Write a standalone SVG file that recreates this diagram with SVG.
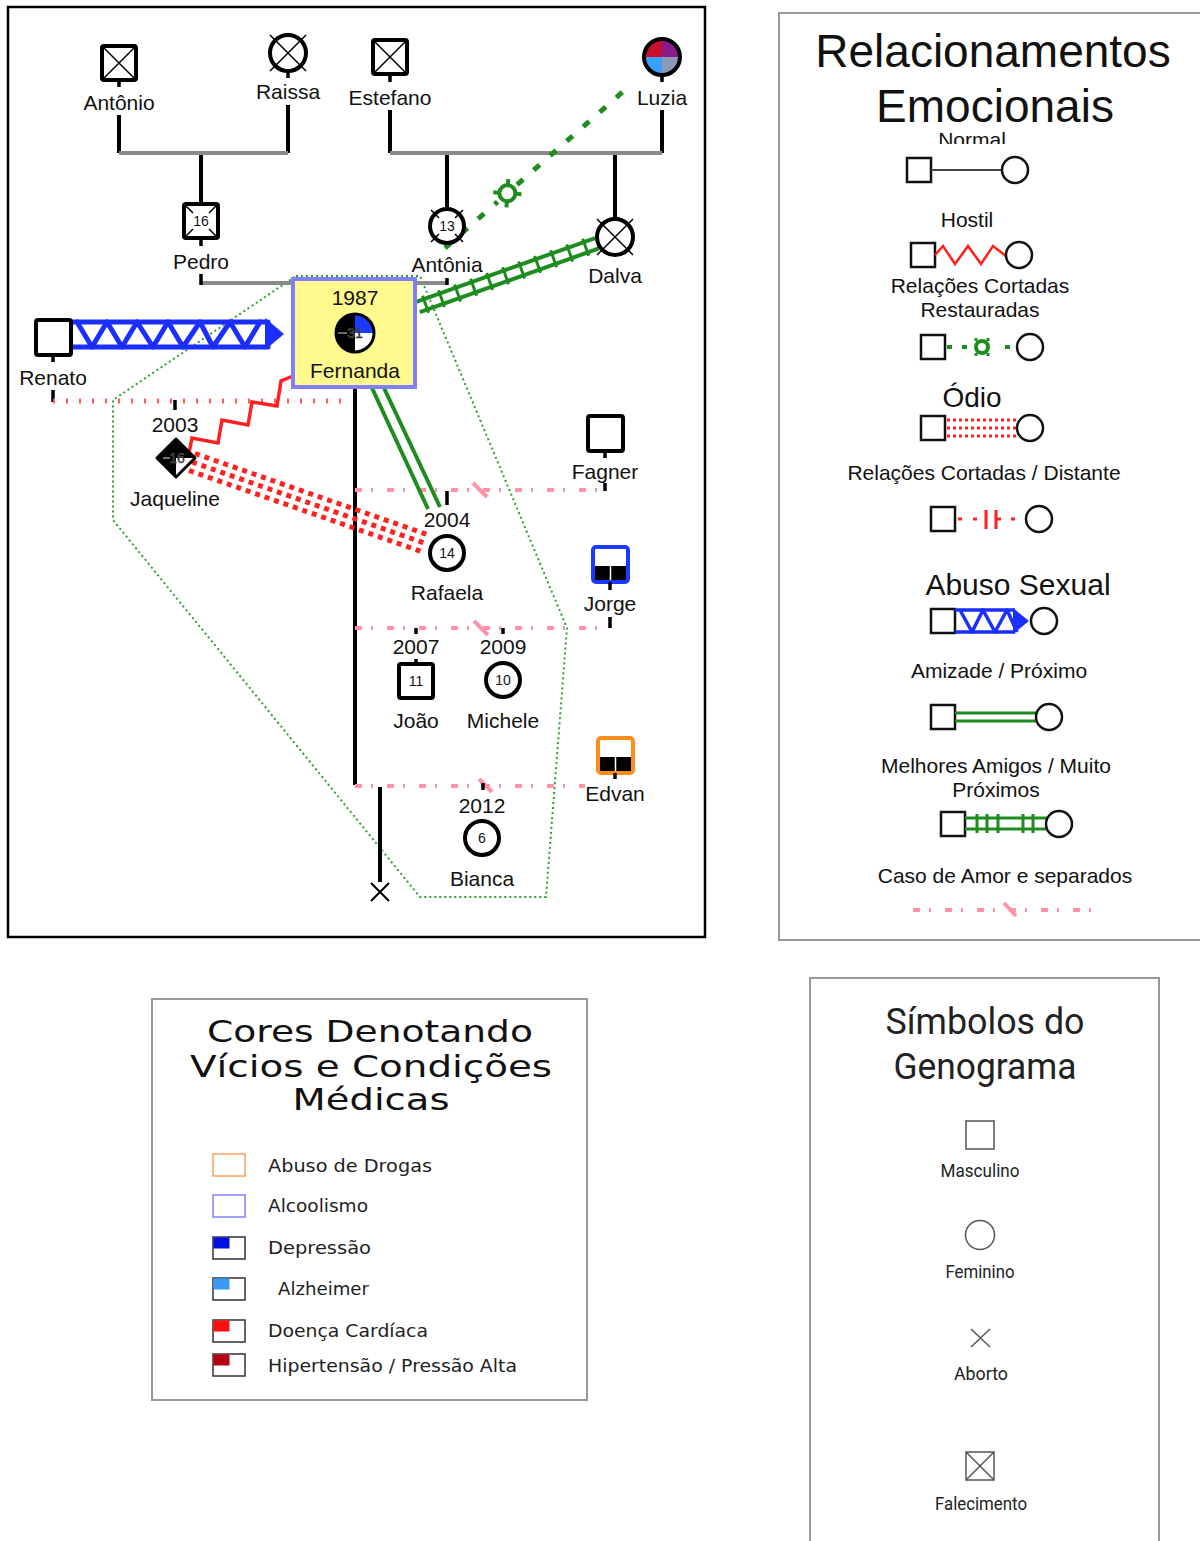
<svg xmlns="http://www.w3.org/2000/svg" width="1200" height="1541" viewBox="0 0 1200 1541">
<style>
text{font-family:"Liberation Sans",Arial,sans-serif;fill:#111}
.l{font-size:21px;text-anchor:middle}
.n{font-size:14px;text-anchor:middle}
.sym{fill:#fff;stroke:#000;stroke-width:4}
.thin{stroke:#000;stroke-width:1.5;fill:none}
.blk{stroke:#000;stroke-width:4;fill:none}
.gray{stroke:#8a8a8a;stroke-width:4;fill:none}
.stub{stroke:#000;stroke-width:3.5}
.pink{stroke:#ff94a8;stroke-width:4;stroke-dasharray:7 9 2 14;fill:none}
.slash{stroke:#ff94a8;stroke-width:4}
.grn{stroke:#1e8c1e;fill:none}
.red{stroke:#ff2020;fill:none}
.blue{stroke:#1a2eff;fill:none}
.frame{fill:none;stroke:#999;stroke-width:2}
.lg{font-size:21px;text-anchor:middle}
.ls{fill:#fff;stroke:#111;stroke-width:2.5}
.c2{font-family:"DejaVu Sans",sans-serif;font-size:18px;fill:#222}
.ct{font-family:"DejaVu Sans",sans-serif;font-size:30px;text-anchor:middle;fill:#111}
.c3{font-family:Roboto,sans-serif;text-anchor:middle;fill:#222}
.s3{fill:none;stroke:#555;stroke-width:1.5}
.box{fill:#fff;stroke:#333;stroke-width:1.5}
</style>
<defs>
<clipPath id="clipN"><rect x="900" y="126" width="150" height="18"/></clipPath>
</defs>
<rect width="1200" height="1541" fill="#fff"/>

<!-- main frame -->
<rect x="8" y="7" width="697" height="930" fill="none" stroke="#000" stroke-width="2.5"/>

<g id="connectors">
  <!-- household dotted -->
  <polygon points="296,276 420,276 567,628 546,897 420,897 113,520 113,400" fill="none" stroke="#2e9e2e" stroke-width="2" stroke-dasharray="2 3"/>
  <!-- Antônio + Raissa -->
  <path class="blk" d="M119,115 V153 M288,105 V153 M201,153 V204"/>
  <path class="gray" d="M119,153 H288"/>
  <!-- Estefano + Luzia -->
  <path class="blk" d="M390,110 V153 M662,110 V153 M447,153 V209 M615,153 V219"/>
  <path class="gray" d="M390,153 H662"/>
  <!-- Pedro + Antônia -->
  <path class="gray" d="M201,283 H447"/>
  <path class="stub" d="M201,274 V285 M447,278 V285"/>
  <!-- Fernanda children line -->
  <path class="blk" d="M355,387 V785"/>
  <!-- Renato - Fernanda distant -->
  <path class="stub" d="M53,390 V402 M175,400 V410"/>
  <path d="M53,401 H350" stroke="#ff5c5c" stroke-width="5" stroke-dasharray="2 11" fill="none"/>
  <!-- pink love lines -->
  <path class="pink" d="M355,490 H600 M355,628 H610 M355,786 H585"/>
  <path class="slash" d="M473,483 L487,497 M474,621 L488,635 M479,779 L492,792"/>
  <path class="stub" d="M605,483 V491 M447,491 V505 M610,617 V628 M416,628 V634 M503,628 V634 M483,783 V790 M416,659 V664"/>
  <!-- abortion -->
  <path class="blk" d="M380,787 V882"/>
  <!-- abuse Renato -> Fernanda -->
  <g class="blue" stroke-width="5" stroke-linecap="round" stroke-linejoin="round">
    <path d="M72,322 H268 M72,347 H268"/>
    <path d="M77,322 L92,347 L107,322 L122,347 L137,322 L153,347 L168,322 L183,347 L200,322 L213,347 L230,322 L245,347 L260,322"/>
  </g>
  <polygon points="265,318 284,334 265,350" fill="#1a2eff"/>
  <!-- hostile Jaqueline - Fernanda -->
  <path class="red" stroke-width="3.5" d="M189,453 L192,438 L218,443 L222,420 L248,425 L252,402 L277,406 L281,381 L293,376"/>
  <!-- hate Jaqueline - Rafaela -->
  <g transform="translate(192,462) rotate(19.23)" class="red" stroke-width="5" stroke-dasharray="5 5">
    <path d="M0,-9 H245 M0,0 H245 M0,9 H245"/>
  </g>
  <!-- friendship Fernanda - Rafaela -->
  <path class="grn" stroke-width="4" d="M372,388 L428,509 M384,388 L440,507"/>
  <!-- best friends Fernanda - Dalva -->
  <g transform="translate(418,307) rotate(-19.6)" class="grn">
    <path stroke-width="4" d="M0,-5.5 H190 M0,5.5 H190"/>
    <path stroke-width="3" d="M8,-9 V9 M25,-9 V9 M42,-9 V9 M59,-9 V9 M76,-9 V9 M93,-9 V9 M110,-9 V9 M127,-9 V9 M144,-9 V9 M161,-9 V9 M178,-9 V9"/>
  </g>
  <!-- cut-off restored Antônia - Luzia -->
  <g transform="translate(445,248) rotate(-41.3)" class="grn">
    <path stroke-width="5" stroke-dasharray="8 14" d="M0,0 H70 M96,0 H250"/>
    <circle cx="83" cy="0" r="8" stroke-width="4"/>
    <path stroke-width="4" d="M77,-6 L73,-10 M89,-6 L93,-10 M77,6 L73,10 M89,6 L93,10"/>
  </g>
</g>

<g id="antonio">
  <rect class="sym" x="102" y="46" width="34" height="34" rx="2"/>
  <path class="thin" d="M104,48 L134,78 M134,48 L104,78"/>
  <path class="stub" d="M119,80 V87"/>
  <text class="l" x="119" y="110">Antônio</text>
</g>
<g id="raissa">
  <circle class="sym" cx="288" cy="53" r="18"/>
  <path class="thin" stroke-width="2" d="M270,35 L306,71 M306,35 L270,71"/>
  <path class="stub" d="M288,71 V78"/>
  <text class="l" x="288" y="99">Raissa</text>
</g>
<g id="estefano">
  <rect class="sym" x="373" y="40" width="34" height="34" rx="2"/>
  <path class="thin" d="M375,42 L405,72 M405,42 L375,72"/>
  <path class="stub" d="M390,74 V82"/>
  <text class="l" x="390" y="105">Estefano</text>
</g>
<g id="luzia">
  <path d="M662,57 L644,57 A18,18 0 0 1 662,39 Z" fill="#c8102e"/>
  <path d="M662,57 L662,39 A18,18 0 0 1 680,57 Z" fill="#8b1a8b"/>
  <path d="M662,57 L680,57 A18,18 0 0 1 662,75 Z" fill="#8a9ab8"/>
  <path d="M662,57 L662,75 A18,18 0 0 1 644,57 Z" fill="#3aa0ff"/>
  <circle cx="662" cy="57" r="18" fill="none" stroke="#000" stroke-width="4"/>
  <path class="stub" d="M662,75 V82"/>
  <text class="l" x="662" y="105">Luzia</text>
</g>
<g id="pedro">
  <rect class="sym" x="184" y="204" width="34" height="34" rx="2"/>
  <path class="thin" d="M186,206 L193,213 M216,206 L209,213 M186,236 L193,229 M216,236 L209,229"/>
  <text class="n" x="201" y="226">16</text>
  <path class="stub" d="M201,238 V246"/>
  <text class="l" x="201" y="269">Pedro</text>
</g>
<g id="antonia">
  <circle class="sym" cx="447" cy="226" r="17"/>
  <path class="thin" stroke-width="2" d="M439,218 L431,210 M455,218 L463,210 M439,234 L431,242 M455,234 L463,242"/>
  <text class="n" x="447" y="231">13</text>
  <text class="l" x="447" y="272">Antônia</text>
</g>
<g id="dalva">
  <circle class="sym" cx="615" cy="237" r="18"/>
  <path class="thin" stroke-width="2" d="M597,219 L633,255 M633,219 L597,255"/>
  <text class="l" x="615" y="283">Dalva</text>
</g>
<g id="fernanda">
  <rect x="293" y="279" width="122" height="108" fill="#fff98e" stroke="#8080ff" stroke-width="4"/>
  <text class="l" x="355" y="305">1987</text>
  <circle cx="355" cy="333" r="19" fill="#000"/>
  <path d="M355,333 L355,314 A19,19 0 0 1 374,333 Z" fill="#1a3aff"/>
  <path d="M355,333 L374,333 A19,19 0 0 1 355,352 Z" fill="#fff"/>
  <circle cx="355" cy="333" r="19" fill="none" stroke="#000" stroke-width="3"/>
  <path d="M338,333 H347" stroke="#888" stroke-width="1.5"/>
  <text class="n" x="355" y="338" fill="#ddd" stroke="#555" stroke-width="0.6">31</text>
  <text class="l" x="355" y="378">Fernanda</text>
</g>
<g id="renato">
  <rect class="sym" x="36" y="320" width="35" height="35" rx="2"/>
  <path class="stub" d="M53,355 V362"/>
  <text class="l" x="53" y="385">Renato</text>
</g>
<g id="jaqueline">
  <text class="l" x="175" y="432">2003</text>
  <polygon points="176,439 195,458 176,477 157,458" fill="#000" stroke="#000" stroke-width="3" stroke-linejoin="round"/>
  <polygon points="176,458 193,458 176,475" fill="#fff"/>
  <path d="M163,458 H170" stroke="#999" stroke-width="1.5"/>
  <text class="n" x="177" y="463" fill="#ccc" stroke="#666" stroke-width="0.5">16</text>
  <text class="l" x="175" y="506">Jaqueline</text>
</g>
<g id="fagner">
  <rect class="sym" x="588" y="416" width="35" height="35" rx="2"/>
  <path class="stub" d="M605,451 V458"/>
  <text class="l" x="605" y="479">Fagner</text>
</g>
<g id="rafaela">
  <text class="l" x="447" y="527">2004</text>
  <circle class="sym" cx="447" cy="553" r="17"/>
  <text class="n" x="447" y="558">14</text>
  <text class="l" x="447" y="600">Rafaela</text>
</g>
<g id="jorge">
  <rect class="sym" x="593" y="547" width="35" height="35" rx="3" style="stroke:#1a3aff"/>
  <rect x="595" y="566" width="31" height="14" fill="#000"/>
  <path d="M610.5,566 V580" stroke="#fff" stroke-width="1.5"/>
  <path class="stub" d="M610,582 V590"/>
  <text class="l" x="610" y="611">Jorge</text>
</g>
<g id="joao">
  <text class="l" x="416" y="654">2007</text>
  <rect class="sym" x="399" y="664" width="34" height="34" rx="2"/>
  <text class="n" x="416" y="686">11</text>
  <text class="l" x="416" y="728">João</text>
</g>
<g id="michele">
  <text class="l" x="503" y="654">2009</text>
  <circle class="sym" cx="503" cy="680" r="17"/>
  <text class="n" x="503" y="685">10</text>
  <text class="l" x="503" y="728">Michele</text>
</g>
<g id="edvan">
  <rect class="sym" x="598" y="738" width="35" height="35" rx="3" style="stroke:#ff8c1a"/>
  <rect x="600" y="757" width="31" height="14" fill="#000"/>
  <path d="M615.5,757 V771" stroke="#fff" stroke-width="1.5"/>
  <path class="stub" d="M615,773 V779"/>
  <text class="l" x="615" y="801">Edvan</text>
</g>
<g id="bianca">
  <text class="l" x="482" y="813">2012</text>
  <circle class="sym" cx="482" cy="838" r="17"/>
  <text class="n" x="482" y="843">6</text>
  <text class="l" x="482" y="886">Bianca</text>
</g>
<g id="aborto">
  <path d="M371,883 L389,901 M389,883 L371,901" stroke="#000" stroke-width="2"/>
</g>

<!-- Legend: Relacionamentos Emocionais -->
<g id="legend-relacionamentos">
  <rect class="frame" x="779" y="13" width="430" height="927"/>
  <text x="993" y="67" font-size="46" text-anchor="middle">Relacionamentos</text>
  <text x="995" y="122" font-size="46" text-anchor="middle">Emocionais</text>
  <text class="lg" x="972" y="147" font-size="20" clip-path="url(#clipN)">Normal</text>
  <rect class="ls" x="907" y="158" width="24" height="24"/>
  <path d="M931,170 H1002" stroke="#444" stroke-width="2"/>
  <circle class="ls" cx="1015" cy="170" r="13"/>

  <text class="lg" x="967" y="227">Hostil</text>
  <rect class="ls" x="911" y="243" width="24" height="24"/>
  <path class="red" stroke-width="2.5" d="M935,255 L943,246 L955,264 L968,246 L981,264 L993,246 L1006,256"/>
  <circle class="ls" cx="1019" cy="255" r="13"/>

  <text class="lg" x="980" y="293">Relações Cortadas</text>
  <text class="lg" x="980" y="317">Restauradas</text>
  <rect class="ls" x="921" y="335" width="24" height="24"/>
  <path class="grn" stroke-width="4" d="M947,347 H952 M962,347 H967 M1005,347 H1010"/>
  <circle class="grn" cx="982" cy="347" r="6" stroke-width="4"/>
  <path class="grn" stroke-width="3" d="M976,341 V338 M988,341 V338 M976,353 V356 M988,353 V356"/>
  <circle class="ls" cx="1030" cy="347" r="13"/>

  <text x="972" y="407" font-size="28" text-anchor="middle">Ódio</text>
  <rect class="ls" x="921" y="416" width="24" height="24"/>
  <path class="red" stroke-width="3" stroke-dasharray="3 3" d="M947,420 H1016 M947,428 H1016 M947,436 H1016"/>
  <circle class="ls" cx="1030" cy="428" r="13"/>

  <text class="lg" x="984" y="480">Relações Cortadas / Distante</text>
  <rect class="ls" x="931" y="507" width="24" height="24"/>
  <path class="red" stroke-width="3" d="M958,519 H962 M973,519 H977 M996,519 H1001 M1011,519 H1015 M986,510 V529 M996,510 V529"/>
  <circle class="ls" cx="1039" cy="519" r="13"/>

  <text x="1018" y="595" font-size="30" text-anchor="middle">Abuso Sexual</text>
  <rect class="ls" x="931" y="609" width="24" height="24"/>
  <g class="blue" stroke-width="3.5" stroke-linejoin="round">
    <path d="M955,610 H1015 M955,632 H1015"/>
    <path d="M960,610 L972,632 L983,610 L995,632 L1007,610 L1017,632"/>
  </g>
  <polygon points="1013,608 1029,621 1013,634" fill="#1a2eff"/>
  <circle class="ls" cx="1044" cy="621" r="13"/>

  <text class="lg" x="999" y="678">Amizade / Próximo</text>
  <rect class="ls" x="931" y="705" width="24" height="24"/>
  <path class="grn" stroke-width="3" d="M955,713 H1037 M955,721 H1037"/>
  <circle class="ls" cx="1049" cy="717" r="13"/>

  <text class="lg" x="996" y="773">Melhores Amigos / Muito</text>
  <text class="lg" x="996" y="797">Próximos</text>
  <rect class="ls" x="941" y="812" width="24" height="24"/>
  <path class="grn" stroke-width="3" d="M965,818 H1047 M965,829 H1047"/>
  <path class="grn" stroke-width="3" d="M977,814 V833 M987,814 V833 M998,814 V833 M1023,814 V833 M1033,814 V833"/>
  <circle class="ls" cx="1059" cy="824" r="13"/>

  <text class="lg" x="1005" y="883">Caso de Amor e separados</text>
  <path class="pink" d="M913,910 H1100"/>
  <path class="slash" d="M1004,903 L1016,916"/>
</g>

<!-- Legend: Cores -->
<g id="legend-cores">
  <rect class="frame" x="152" y="999" width="435" height="401"/>
  <text class="ct" x="370" y="1042" textLength="326" lengthAdjust="spacingAndGlyphs">Cores Denotando</text>
  <text class="ct" x="371" y="1077" textLength="362" lengthAdjust="spacingAndGlyphs">Vícios e Condições</text>
  <text class="ct" x="371" y="1110" textLength="157" lengthAdjust="spacingAndGlyphs">Médicas</text>

  <rect x="213" y="1154" width="32" height="22" fill="#fff" stroke="#ffa060" stroke-width="1.5"/>
  <text class="c2" x="268" y="1172" textLength="164" lengthAdjust="spacingAndGlyphs">Abuso de Drogas</text>
  <rect x="213" y="1195" width="32" height="22" fill="#fff" stroke="#8080ff" stroke-width="1.5"/>
  <text class="c2" x="268" y="1212" textLength="100" lengthAdjust="spacingAndGlyphs">Alcoolismo</text>
  <rect class="box" x="213" y="1237" width="32" height="22"/>
  <rect x="213.5" y="1237.5" width="16" height="11" fill="#0010e0"/>
  <text class="c2" x="268" y="1254" textLength="103" lengthAdjust="spacingAndGlyphs">Depressão</text>
  <rect class="box" x="213" y="1278" width="32" height="22"/>
  <rect x="213.5" y="1278.5" width="16" height="11" fill="#3a9af0"/>
  <text class="c2" x="278" y="1295" textLength="91" lengthAdjust="spacingAndGlyphs">Alzheimer</text>
  <rect class="box" x="213" y="1320" width="32" height="22"/>
  <rect x="213.5" y="1320.5" width="16" height="11" fill="#ff1010"/>
  <text class="c2" x="268" y="1337" textLength="160" lengthAdjust="spacingAndGlyphs">Doença Cardíaca</text>
  <rect class="box" x="213" y="1354" width="32" height="22"/>
  <rect x="213.5" y="1354.5" width="16" height="11" fill="#b8000f"/>
  <text class="c2" x="268" y="1372" textLength="249" lengthAdjust="spacingAndGlyphs">Hipertensão / Pressão Alta</text>
</g>

<!-- Legend: Símbolos -->
<g id="legend-simbolos">
  <rect class="frame" x="810" y="978" width="349" height="580"/>
  <text class="c3" x="985" y="1034" font-size="36" textLength="199" lengthAdjust="spacingAndGlyphs">Símbolos do</text>
  <text class="c3" x="985" y="1079" font-size="36" textLength="183" lengthAdjust="spacingAndGlyphs">Genograma</text>
  <rect class="s3" x="966" y="1121" width="28" height="28"/>
  <text class="c3" x="980" y="1177" font-size="19" textLength="79" lengthAdjust="spacingAndGlyphs">Masculino</text>
  <circle class="s3" cx="980" cy="1235" r="14.5"/>
  <text class="c3" x="980" y="1278" font-size="19" textLength="69" lengthAdjust="spacingAndGlyphs">Feminino</text>
  <path class="s3" d="M971,1329 L990,1347 M990,1329 L971,1347"/>
  <text class="c3" x="981" y="1380" font-size="19" textLength="54" lengthAdjust="spacingAndGlyphs">Aborto</text>
  <rect class="s3" x="966" y="1452" width="28" height="28"/>
  <path class="s3" stroke-width="1" d="M966,1452 L994,1480 M994,1452 L966,1480"/>
  <text class="c3" x="981" y="1510" font-size="19" textLength="92" lengthAdjust="spacingAndGlyphs">Falecimento</text>
</g>
</svg>
